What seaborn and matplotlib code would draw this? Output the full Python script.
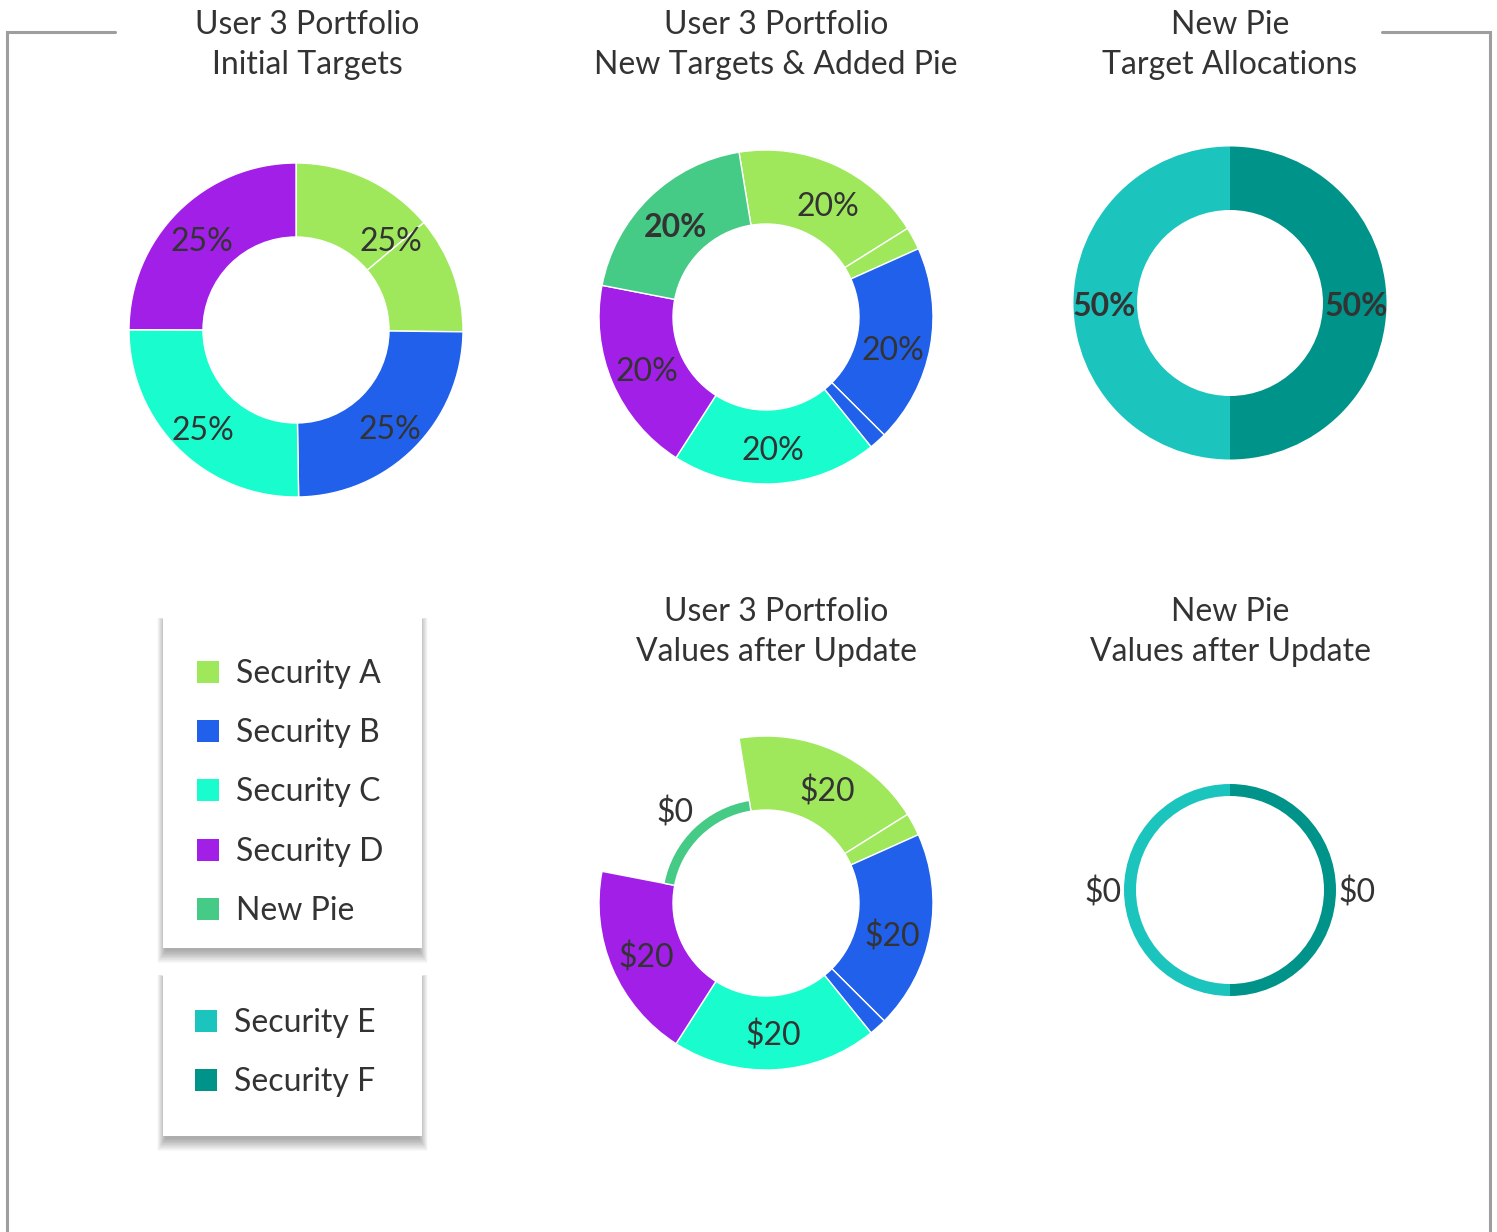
import numpy as np
import matplotlib.pyplot as plt
import seaborn as sns
from matplotlib.patches import Rectangle

sns.set_theme(style="white")
plt.rcParams['font.family'] = ['Lato', 'DejaVu Sans']
plt.rcParams['text.color'] = '#333333'

W, H = 1497, 1232
FS = 23

# series and colours
series_names = ["Security A", "Security B", "Security C", "Security D", "New Pie"]
series_colors = sns.color_palette(["#9FE85C", "#2160EB", "#19FDCE", "#A21FE8", "#45CB85"])
newpie_names = ["Security E", "Security F"]
newpie_colors = sns.color_palette(["#1BC5BE", "#00938A"])

# chart 1: initial targets (slice A is drawn in two pieces)
init_pieces = ["Security A", "Security A", "Security B", "Security C", "Security D"]
init_share = [13.9, 11.3, 24.6, 25.3, 25.0]
init_labels = ["25%", "25%", "25%", "25%"]

# chart 2: new targets + added pie (A and B drawn in two pieces)
new_pieces = ["Security A", "Security A", "Security B", "Security B",
              "Security C", "Security D", "New Pie"]
new_share = [18.7, 2.2, 19.2, 1.7, 19.9, 19.0, 19.4]
new_labels = ["20%", "20%", "20%", "20%", "20%"]

# chart 3: new pie target allocations
alloc_share = [50, 50]
alloc_labels = ["50%", "50%"]

# chart 4/5: dollar values after update
after_values = [20, 20, 20, 20, 0]
newpie_values = [0, 0]


def color_of(name):
    if name in series_names:
        return series_colors[series_names.index(name)]
    return newpie_colors[newpie_names.index(name)]


def draw_donut(ax, cx, cy, pieces, shares, r_in, r_out, start, ccw=False, edge=1.0,
               radii=None):
    wedges, _ = ax.pie(shares, colors=[color_of(p) for p in pieces], center=(cx, H - cy),
                       radius=r_out, startangle=start, counterclock=ccw,
                       wedgeprops=dict(width=r_out - r_in, edgecolor='white', linewidth=edge))
    if radii is not None:
        for w, r in zip(wedges, radii):
            w.set_radius(r)
            w.set_width(r - r_in)
    return wedges


def series_mid_angles(pieces, shares, start, ccw=False):
    # angle measured clockwise from 12 o'clock
    total = sum(shares)
    clock0 = 90 - start
    sign = -1 if ccw else 1
    spans = {}
    acc = 0
    for p, s in zip(pieces, shares):
        a0 = clock0 + sign * acc / total * 360
        acc += s
        a1 = clock0 + sign * acc / total * 360
        if p in spans:
            spans[p] = (spans[p][0], a1)
        else:
            spans[p] = (a0, a1)
    return {k: (v[0] + v[1]) / 2 for k, v in spans.items()}


def put_labels(ax, cx, cy, mids, names, texts, r_lab, bold=(), dy=2):
    for n, t in zip(names, texts):
        th = np.deg2rad(mids[n])
        x = cx + r_lab * np.sin(th)
        y = cy - r_lab * np.cos(th) + dy
        ax.text(x, H - (y + 11), t, ha='center', va='baseline', fontsize=FS,
                fontweight='bold' if n in bold else 'normal', zorder=10)


def title(ax, x, y_base, lines):
    for i, l in enumerate(lines):
        ax.text(x, H - (y_base + 40 * i), l, ha='center', va='baseline', fontsize=FS)


def legend_box(ax, x0, x1, top, bottom, names, rows_y, sq_x):
    # soft drop shadow, mostly below the box
    for i in range(22, 0, -1):
        ax.add_patch(Rectangle((x0 + 3 - i * 0.4, H - bottom - 2 - i * 0.6),
                               (x1 - x0) - 6 + i * 0.8, (bottom - top) + i * 0.7,
                               facecolor='black', alpha=0.016, lw=0, zorder=3))
    ax.add_patch(Rectangle((x0, H - bottom), x1 - x0, bottom - top, facecolor='white',
                           lw=0, zorder=4))
    for n, ry in zip(names, rows_y):
        ax.add_patch(Rectangle((sq_x, H - ry - 11), 22, 22, facecolor=color_of(n), lw=0, zorder=5))
        ax.text(sq_x + 39, H - (ry + 11), n, ha='left', va='baseline', fontsize=FS, zorder=5)


fig = plt.figure(figsize=(W / 100, H / 100), dpi=100)
ax = fig.add_axes([0, 0, 1, 1])

# frame
ax.plot([7, 7, 115], [0, H - 32, H - 32], color='#9E9E9E', lw=2.2, solid_joinstyle='miter')
ax.plot([1382, 1490, 1490], [H - 32, H - 32, 0], color='#9E9E9E', lw=2.2, solid_joinstyle='miter')

# chart 1
draw_donut(ax, 296, 330, init_pieces, init_share, 93, 167, 90)
mids = series_mid_angles(init_pieces, init_share, 90)
put_labels(ax, 296, 330, mids, series_names[:4], init_labels, 133, dy=4)
title(ax, 307, 34, ["User 3 Portfolio", "Initial Targets"])

# chart 2
draw_donut(ax, 766, 317, new_pieces, new_share, 93, 167, 99.3)
mids2 = series_mid_angles(new_pieces, new_share, 99.3)
put_labels(ax, 766, 317, mids2, series_names, new_labels, 130, bold=("New Pie",))
title(ax, 776, 34, ["User 3 Portfolio", "New Targets & Added Pie"])

# chart 3
draw_donut(ax, 1230, 303, newpie_names, alloc_share, 93, 156.5, 90, ccw=True, edge=0)
mids3 = series_mid_angles(newpie_names, alloc_share, 90, ccw=True)
put_labels(ax, 1230, 303, mids3, newpie_names, alloc_labels, 126, bold=tuple(newpie_names))
title(ax, 1230, 34, ["New Pie", "Target Allocations"])


def var_radii(pieces, names, values, r_in, r_full, t_min):
    vmax = max(values) if max(values) > 0 else 1
    out = []
    for p in pieces:
        v = values[names.index(p)]
        out.append(r_in + t_min + (r_full - r_in - t_min) * v / vmax)
    return out


# chart 4
r4 = var_radii(new_pieces, series_names, after_values, 93, 167, 11)
draw_donut(ax, 766, 903, new_pieces, new_share, 93, 167, 99.3, radii=r4)
put_labels(ax, 766, 903, mids2, series_names, [f"${v}" for v in after_values], 130)
title(ax, 776, 621, ["User 3 Portfolio", "Values after Update"])

# chart 5
r5 = var_radii(newpie_names, newpie_names, newpie_values, 94, 156.5, 12)
draw_donut(ax, 1230, 890, newpie_names, alloc_share, 94, 156.5, 90, ccw=True, edge=0, radii=r5)
put_labels(ax, 1230, 890, mids3, newpie_names, [f"${v}" for v in newpie_values], 127)
title(ax, 1230, 621, ["New Pie", "Values after Update"])

# legends
legend_box(ax, 163, 422, 618, 948, series_names, [672, 731, 790, 850, 909], 197)
legend_box(ax, 163, 422, 975, 1136, newpie_names, [1021, 1080], 195)

ax.set_xlim(0, W)
ax.set_ylim(0, H)
ax.set_aspect('auto')
ax.axis('off')

fig.savefig("out.png", dpi=100, facecolor='white')
